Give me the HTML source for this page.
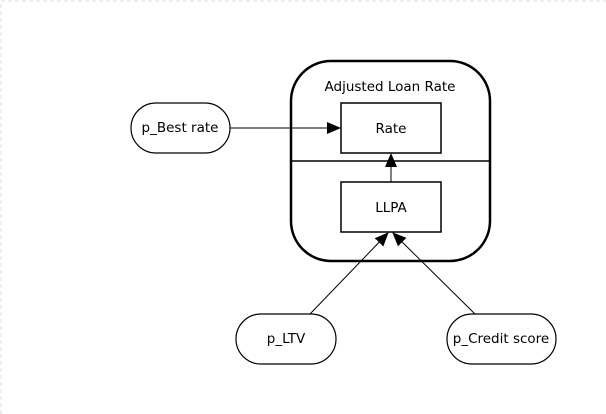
<!DOCTYPE html>
<html><head><style>
html,body{margin:0;padding:0;background:#fff;}
svg{display:block;}
text{font-family:"DejaVu Sans","Liberation Sans",sans-serif;font-size:13.5px;fill:#000;}
</style></head><body>
<svg width="606" height="414" viewBox="0 0 606 414" xmlns="http://www.w3.org/2000/svg">
<defs>
<marker id="ar" markerWidth="14" markerHeight="12" refX="13" refY="6" orient="auto" markerUnits="userSpaceOnUse">
<path d="M0,0 L14,6 L0,12 z" fill="#000"/>
</marker>
</defs>
<path d="M1,414 V1 H606" fill="none" stroke="#ddd" stroke-dasharray="4,3"/>
<rect x="291" y="61" width="199" height="200" rx="40" ry="40" fill="#fff" stroke="#000" stroke-width="2.5"/>
<line x1="291" y1="161" x2="490" y2="161" stroke="#000" stroke-width="1.5"/>
<text x="390" y="91" text-anchor="middle">Adjusted Loan Rate</text>
<rect x="341" y="103" width="100" height="50" fill="#fff" stroke="#000" stroke-width="1.5"/>
<text x="391" y="133" text-anchor="middle">Rate</text>
<rect x="341" y="182" width="100" height="50" fill="#fff" stroke="#000" stroke-width="1.5"/>
<text x="391" y="212" text-anchor="middle">LLPA</text>
<rect x="131" y="103" width="99" height="50" rx="25" fill="#fff" stroke="#000" stroke-width="1.2"/>
<text x="180" y="132" text-anchor="middle">p_Best rate</text>
<rect x="236" y="314" width="100" height="50" rx="25" fill="#fff" stroke="#000" stroke-width="1.2"/>
<text x="286" y="343" text-anchor="middle">p_LTV</text>
<rect x="447" y="314" width="109" height="50" rx="25" fill="#fff" stroke="#000" stroke-width="1.2"/>
<text x="501" y="343" text-anchor="middle">p_Credit score</text>
<line x1="230" y1="128" x2="340" y2="128" stroke="#000" stroke-width="1" marker-end="url(#ar)"/>
<line x1="391" y1="182" x2="391" y2="154" stroke="#000" stroke-width="1" marker-end="url(#ar)"/>
<line x1="310" y1="314" x2="388" y2="233" stroke="#000" stroke-width="1" marker-end="url(#ar)"/>
<line x1="475" y1="314" x2="393" y2="233" stroke="#000" stroke-width="1" marker-end="url(#ar)"/>
</svg>
</body></html>
